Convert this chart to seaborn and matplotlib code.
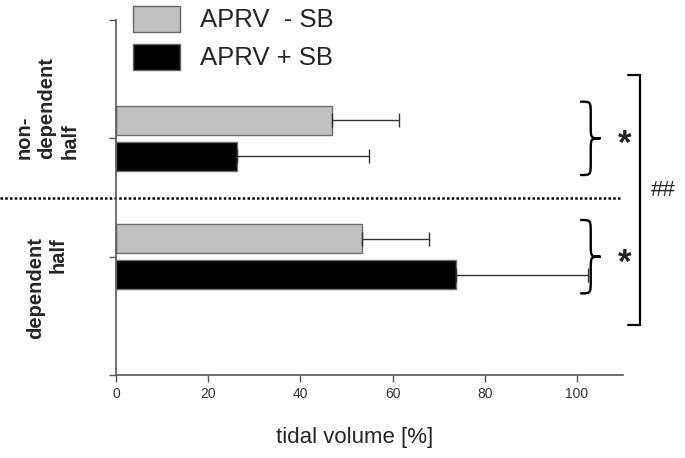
import numpy as np
import pandas as pd
import matplotlib
matplotlib.use('Agg')
import matplotlib.pyplot as plt
import matplotlib.transforms as mtransforms
from matplotlib.path import Path
from matplotlib.patches import PathPatch
import seaborn as sns

# data
regions = ['non-dependent', 'dependent']
region_labels = ['non-\ndependent\nhalf', 'dependent\nhalf']
modes = ['APRV  - SB', 'APRV + SB']
mean_minus_sb = [46.8, 53.3]
sd_minus_sb = [14.6, 14.6]
mean_plus_sb = [26.2, 73.8]
sd_plus_sb = [28.7, 28.6]
x_ticks = [0, 20, 40, 60, 80, 100]

df = pd.DataFrame({
    'region': regions * 2,
    'mode': [modes[0]] * 2 + [modes[1]] * 2,
    'tv': mean_minus_sb + mean_plus_sb,
    'sd': sd_minus_sb + sd_plus_sb,
})

sns.set_style('ticks')
plt.rcParams['font.family'] = ['Liberation Sans', 'DejaVu Sans']

fig = plt.figure(figsize=(6.85, 4.58), dpi=100)
ax = fig.add_axes([0.1693, 0.1812, 0.7402, 0.7751])

palette = {modes[0]: '#c0c0c0', modes[1]: '#000000'}
sns.barplot(data=df, x='tv', y='region', hue='mode', order=regions, hue_order=modes,
            palette=palette, orient='h', width=0.61, gap=0.2, errorbar=None,
            edgecolor='#6e6e6e', linewidth=1, saturation=1, ax=ax)

# one-sided SD error bars
for container, mode in zip(ax.containers, modes):
    sub = df[df['mode'] == mode].set_index('region')
    for bar, region in zip(container, regions):
        yc = bar.get_y() + bar.get_height() / 2
        w = bar.get_width()
        ax.errorbar(w, yc, xerr=[[0], [sub.loc[region, 'sd']]], fmt='none',
                    ecolor='#333333', elinewidth=1, capsize=5, capthick=1)

ax.set_xlim(0, 110)
ax.set_ylim(2, -1)
ax.set_xticks(x_ticks)
ax.set_yticks([-1, 0, 1, 2])
ax.set_yticklabels([])
ax.set_ylabel('')
sns.despine(ax=ax)
for s in ['left', 'bottom']:
    ax.spines[s].set_color('#555555')
    ax.spines[s].set_linewidth(1.2)
ax.tick_params(length=5, width=1, color='#555555', labelsize=10, labelcolor='#333333')

ax.set_xlabel('tidal volume [%]', fontsize=16)
ax.xaxis.label.set_va('center')
ax.xaxis.set_label_coords(0.471, -0.175)

# group labels
trans = mtransforms.blended_transform_factory(ax.transAxes, ax.transData)
ax.text(-0.136, -0.256, region_labels[0], transform=trans, rotation=90, ha='center', va='center',
        multialignment='left', fontsize=14.5, fontweight='bold', linespacing=1.25)
ax.text(-0.136, 1.265, region_labels[1], transform=trans, rotation=90, ha='center', va='center',
        multialignment='right', fontsize=14.5, fontweight='bold', linespacing=1.25)

# dotted separator
ax.axhline(0.5, xmin=-116 / 507, xmax=(622 - 116) / 507, color='black', lw=1.8,
           ls=(0, (1, 0.9)), clip_on=False)

# legend
leg = ax.legend(loc='upper left', bbox_to_anchor=(133 / 685, 1 - 6 / 458),
                bbox_transform=fig.transFigure, frameon=False, fontsize=18.5,
                handlelength=1.83, handleheight=1.15, handletextpad=0.78,
                labelspacing=0.45, borderpad=0, borderaxespad=0)
for h in leg.legend_handles:
    h.set_edgecolor('#666666')


def brace(ax, yc, x0=100.9, xm=103.0, x1=105.0, half=0.31, q=0.11):
    top, bot = yc - half, yc + half
    verts = [(x0, top), (xm, top), (xm, top), (xm, top + q),
             (xm, yc - q),
             (xm, yc), (xm, yc), (x1, yc),
             (xm, yc), (xm, yc), (xm, yc + q),
             (xm, bot - q),
             (xm, bot), (xm, bot), (x0, bot)]
    codes = [Path.MOVETO] + [Path.CURVE4] * 3 + [Path.LINETO] + [Path.CURVE4] * 6 \
        + [Path.LINETO] + [Path.CURVE4] * 3
    ax.add_patch(PathPatch(Path(verts, codes), fill=False, lw=1.7, edgecolor='black',
                           capstyle='round', joinstyle='round', clip_on=False))


# significance marks
for yc in [0, 1]:
    brace(ax, yc)
    ax.text(110.4, yc + 0.135, '*', fontsize=25, fontweight='bold', ha='center',
            va='baseline', clip_on=False)
ax.plot([111.1, 113.6, 113.6, 111.1], [-0.535, -0.535, 1.578, 1.578], color='black',
        lw=1.6, clip_on=False, solid_joinstyle='miter')
ax.text(118.7, 0.437, '##', fontsize=16, ha='center', va='center', clip_on=False)

fig.savefig('out.png', dpi=100)
